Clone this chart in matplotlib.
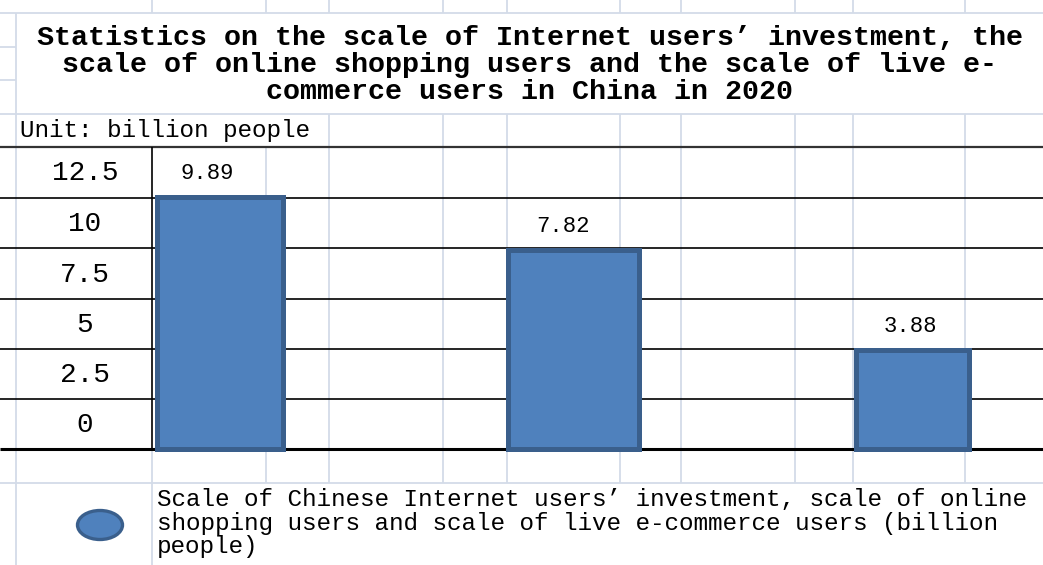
import matplotlib
matplotlib.use("Agg")
import matplotlib.pyplot as plt
from matplotlib.patches import Ellipse

# data
categories = ["Internet users' investment", "Online shopping users", "Live e-commerce users"]
values = [9.89, 7.82, 3.88]
row_labels = ["12.5", "10", "7.5", "5", "2.5", "0"]
title_lines = ["Statistics on the scale of Internet users\u2019 investment, the",
               "scale of online shopping users and the scale of live e-",
               "commerce users in China in 2020"]
unit_text = "Unit: billion people"
legend_lines = ["Scale of Chinese Internet users\u2019 investment, scale of online",
                "shopping users and scale of live e-commerce users (billion",
                "people)"]

# layout (pixels of the 1043x565 sheet)
W, H = 1043, 565
base_px = 449
px_per_unit = 25.5
bar_x = [219.5, 573, 912.5]
bar_w = [126, 131, 113]
label_dx = [-12, -10, -2]
cols = [266, 329, 443, 507, 620, 681, 795, 853, 965]
rows = [147, 198, 248, 299, 349, 399, 449]

grid_c = "#D3DBE8"
fill_c = "#4F81BD"
edge_c = "#3A5F8C"
mono = "Liberation Mono"

fig = plt.figure(figsize=(W / 100, H / 100), dpi=100)
fig.patch.set_facecolor("white")

bg = fig.add_axes([0, 0, 1, 1])
bg.set_xlim(0, W)
bg.set_ylim(H, 0)
bg.axis("off")

# light sheet grid
bg.hlines([13, 114, 483], 0, W, color=grid_c, lw=1.3)
bg.hlines([47, 80], 0, 16, color=grid_c, lw=1.3)
bg.vlines(16, 13, H, color=grid_c, lw=1.3)
bg.vlines([152] + cols, 0, 13, color=grid_c, lw=1.3)
bg.vlines([c for c in cols if c >= 329], 114, 147, color=grid_c, lw=1.3)
bg.vlines(cols, 147, 483, color=grid_c, lw=1.3)
bg.vlines(152, 449, H, color=grid_c, lw=1.3)

# table lines
bg.hlines(rows[0], 0, W, color="#333333", lw=1.6)
bg.hlines(rows[1:-1], 0, W, color="black", lw=1.2)
bg.hlines(rows[-1], 0, W, color="black", lw=2.2)
bg.vlines(152, 147, 449, color="black", lw=1.2)

for i, line in enumerate(title_lines):
    bg.text(530, 38 + i * 27, line, ha="center", va="center",
            family=mono, fontweight="bold", fontsize=20.4)

bg.text(20, 131, unit_text, ha="left", va="center", family=mono, fontsize=17.5)

for i, lab in enumerate(row_labels):
    y = (rows[i] + rows[i + 1]) / 2
    bg.text(85, y + 1, lab, ha="center", va="center", family=mono, fontsize=20)

# legend
bg.add_patch(Ellipse((100, 525), 45, 29, facecolor=fill_c, edgecolor=edge_c, lw=2.4))
for i, line in enumerate(legend_lines):
    bg.text(157, 500 + i * 23.5, line, ha="left", va="center", family=mono, fontsize=17.5)

# bars in value units
ax = fig.add_axes([0, 0, 1, 1])
ax.set_xlim(0, W)
ax.set_ylim(-(H - base_px) / px_per_unit, base_px / px_per_unit)
ax.axis("off")
ax.patch.set_visible(False)

ax.bar(bar_x, values, width=bar_w, color=fill_c, edgecolor=edge_c, linewidth=3.6)
for x, v, dx in zip(bar_x, values, label_dx):
    ax.text(x + dx, v + 0.92, f"{v:.2f}", ha="center", va="center",
            family=mono, fontsize=16)

fig.savefig("out.png", dpi=100)
